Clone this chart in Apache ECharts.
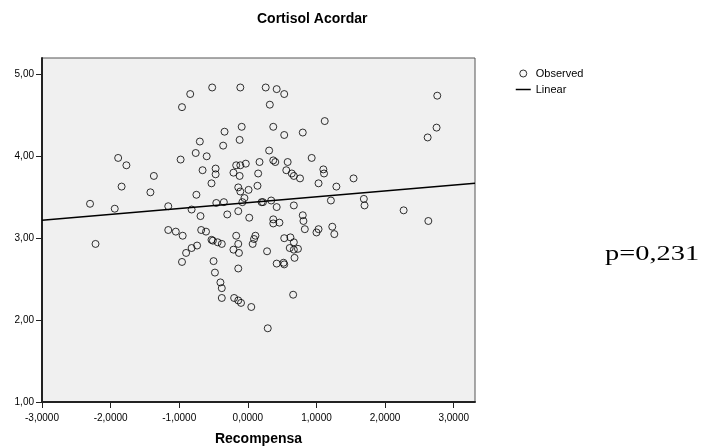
<!DOCTYPE html>
<html>
<head>
<meta charset="utf-8">
<script src="https://cdn.jsdelivr.net/npm/echarts@6/dist/echarts.min.js"></script>
<style>html,body{margin:0;padding:0;background:#fff}#c{width:703px;height:447px}</style>
</head>
<body>
<div id="c"></div>
<script>
const titleText = 'Cortisol Acordar';
const xAxisName = 'Recompensa';
const pText = 'p=0,231';
const obsX = [
 -2.30,-1.94,-1.89,-1.77,-1.84,-1.37,-1.42,-1.16,-0.96,-0.84,-0.52,-0.11,-0.98,-0.76,-0.70,-0.60,-0.34,-0.36,-0.09,-0.12,
 -0.66,-0.47,-0.47,-0.53,-0.75,-0.82,-0.69,-0.46,-0.35,-0.30,-0.21,-0.17,-0.11,-0.03,-0.12,-0.14,-0.11,0.01,-0.05,-0.08,
 -0.14,0.02,-2.22,-1.16,-1.05,-0.95,-0.68,-0.61,-0.53,-0.51,-0.44,-0.38,-0.74,-0.82,-0.90,-0.96,-0.50,-0.48,-0.40,-0.38,
 -0.38,-0.20,-0.14,-0.10,-0.17,-0.14,-0.13,-0.14,-0.21,
 0.26,0.42,0.53,0.32,1.12,0.37,0.53,0.80,2.76,2.75,2.62,0.31,0.37,0.40,0.58,0.93,0.17,0.56,0.64,0.67,
 0.76,1.10,1.11,0.15,0.14,1.03,1.29,1.54,0.20,0.22,0.34,0.42,0.67,1.21,1.69,1.70,2.27,2.63,0.37,0.37,
 0.46,0.80,0.81,0.83,1.03,1.00,1.23,1.26,0.11,0.09,0.07,0.28,0.53,0.62,0.67,0.61,0.67,0.73,0.68,0.42,
 0.52,0.53,0.66,0.05,0.29
];
const obsY = [
 3.42,3.36,3.98,3.89,3.63,3.76,3.56,3.39,4.60,4.76,4.84,4.84,3.96,4.04,4.18,4.00,4.30,4.13,4.36,4.20,
 3.83,3.85,3.78,3.67,3.53,3.35,3.27,3.43,3.44,3.29,3.80,3.89,3.89,3.91,3.76,3.62,3.57,3.59,3.49,3.44,
 3.33,3.25,2.93,3.10,3.08,3.03,3.10,3.08,2.98,2.97,2.95,2.93,2.91,2.88,2.82,2.71,2.72,2.58,2.46,2.39,
 2.27,2.27,2.24,2.21,3.03,2.93,2.82,2.63,2.86,
 4.84,4.82,4.76,4.63,4.43,4.36,4.26,4.29,4.74,4.35,4.23,4.07,3.95,3.93,3.93,3.98,3.93,3.83,3.79,3.76,
 3.73,3.84,3.79,3.79,3.64,3.67,3.63,3.73,3.44,3.44,3.46,3.38,3.40,3.46,3.48,3.40,3.34,3.21,3.23,3.18,
 3.19,3.28,3.21,3.11,3.11,3.07,3.14,3.05,3.03,2.99,2.93,2.84,3.00,3.01,2.95,2.88,2.86,2.87,2.76,2.69,
 2.70,2.68,2.31,2.16,1.90
];
const fitX = [-3.0, 3.31];
const fitY = [3.22, 3.67];

const chart = echarts.init(document.getElementById('c'), null, {renderer:'canvas'});
const font = 'Liberation Sans, Arial, sans-serif';
chart.setOption({
  animation: false,
  backgroundColor: '#ffffff',
  title: {
    text: titleText, left: 252, top: 7,
    textStyle: {fontFamily: font, fontSize: 14, fontWeight: 'bold', color: '#000'}
  },
  legend: {
    orient: 'vertical', left: 510, top: 63, itemWidth: 15, itemHeight: 7, itemGap: 5,
    textStyle: {fontFamily: font, fontSize: 11, color: '#000'},
    data: [
      {name: 'Observed', icon: 'circle',
       itemStyle: {color: '#f7f7f7', borderColor: '#000', borderWidth: 1}},
      {name: 'Linear', itemStyle: {opacity: 0}, lineStyle: {color: '#000', width: 1.5}}
    ]
  },
  grid: {
    left: 42, right: 228, top: 58, bottom: 45, containLabel: false, outerBoundsMode: 'none',
    show: true, backgroundColor: '#f0f0f0', borderColor: '#555', borderWidth: 1
  },
  xAxis: {
    type: 'value', min: -3, max: 3.31, interval: 1,
    name: xAxisName, nameLocation: 'middle', nameGap: 30,
    nameTextStyle: {fontFamily: font, fontSize: 14, fontWeight: 'bold', color: '#000'},
    axisLine: {show: true, onZero: false, lineStyle: {color: '#222', width: 2}},
    axisTick: {show: true, length: 6, lineStyle: {color: '#222'}},
    axisLabel: {margin: 11, showMaxLabel: false, fontFamily: font, fontSize: 10, color: '#000',
      formatter: v => v.toFixed(4).replace('.', ',')},
    splitLine: {show: false}
  },
  yAxis: {
    type: 'value', min: 1, max: 5.2, interval: 1,
    axisLine: {show: true, onZero: false, lineStyle: {color: '#222', width: 2}},
    axisTick: {show: true, length: 6, lineStyle: {color: '#222'}},
    axisLabel: {margin: 8, showMaxLabel: false, fontFamily: font, fontSize: 10, color: '#000',
      formatter: v => v.toFixed(2).replace('.', ',')},
    splitLine: {show: false}
  },
  series: [
    {
      name: 'Observed', type: 'scatter', symbol: 'circle', symbolSize: 7,
      itemStyle: {color: 'rgba(0,0,0,0)', borderColor: '#000', borderWidth: 1},
      data: obsX.map((x, i) => [x, obsY[i]]), z: 3
    },
    {
      name: 'Linear', type: 'line', symbol: 'none', showSymbol: false,
      lineStyle: {color: '#000', width: 1.5}, itemStyle: {color: '#000'},
      data: fitX.map((x, i) => [x, fitY[i]]), z: 2
    }
  ],
  graphic: [{
    type: 'text', x: 605, y: 255, scaleX: 1.42, scaleY: 1,
    style: {text: pText, fontFamily: 'Liberation Serif, Times New Roman, serif', fontSize: 20,
      fill: '#000', textVerticalAlign: 'middle', textAlign: 'left'}
  }]
});
</script>
</body>
</html>
